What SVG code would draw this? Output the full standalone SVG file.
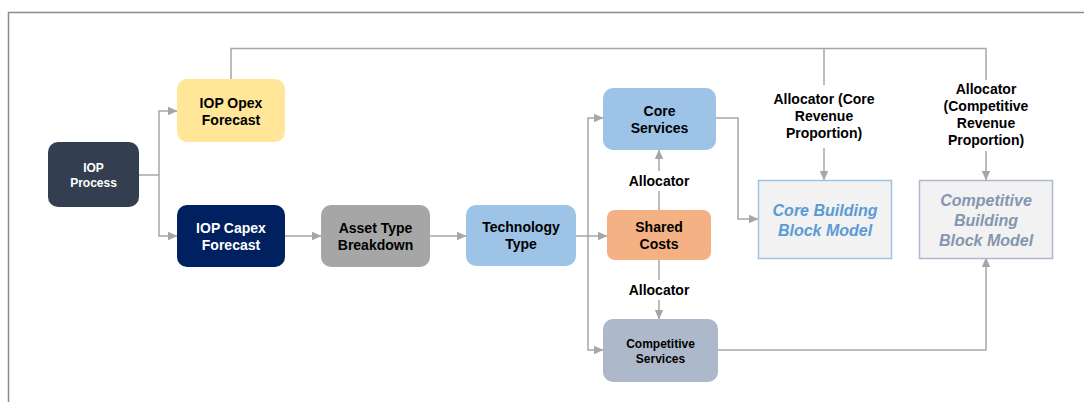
<svg xmlns="http://www.w3.org/2000/svg" width="1084" height="402" viewBox="0 0 1084 402">
  <style>
    .frame { fill: none; stroke: #8c8c8c; stroke-width: 1.5; }
    .conn { fill: none; stroke: #a6a6a6; stroke-width: 1.5; }
    .arr { marker-end: url(#ah); }
    .t { font-family: "Liberation Sans", Arial, sans-serif; font-weight: bold; text-anchor: middle; }
    .t14 { font-size: 14px; }
    .t12 { font-size: 12px; }
    .t16i { font-size: 16px; font-style: italic; }
    .dark { fill: #000000; }
    .light { fill: #ffffff; }
  </style>
  <defs>
    <marker id="ah" markerUnits="userSpaceOnUse" markerWidth="10" markerHeight="10" refX="9" refY="5" orient="auto">
      <path d="M0,0.8 L9.5,5 L0,9.2 Z" fill="#a6a6a6"/>
    </marker>
  </defs>

  <rect width="1084" height="402" fill="#ffffff"/>

  <!-- outer frame (top and left edges) -->
  <path class="frame" d="M8.5,402 V12.5 H1084"/>

  <!-- connectors -->
  <g id="connectors">
    <!-- IOP Process fan-out -->
    <path class="conn" d="M139,175 H159"/>
    <path class="conn arr" d="M159,175 V111 H177"/>
    <path class="conn arr" d="M159,175 V236 H177"/>
    <!-- capex chain -->
    <path class="conn arr" d="M285,236 H321"/>
    <path class="conn arr" d="M430,236 H466"/>
    <path class="conn" d="M576,236 H588"/>
    <path class="conn arr" d="M588,236 H607"/>
    <path class="conn arr" d="M588,236 V118 H603"/>
    <path class="conn arr" d="M588,236 V350 H603"/>
    <!-- shared cost allocation -->
    <path class="conn arr" d="M659,210 V150"/>
    <path class="conn arr" d="M659,260 V319"/>
    <!-- services to building block models -->
    <path class="conn arr" d="M716,118 H738 V219 H758"/>
    <path class="conn arr" d="M718,350 H986 V258"/>
    <!-- opex feed to the revenue allocators -->
    <path class="conn" d="M231,79 V48.5 H986 V80"/>
    <path class="conn" d="M824,48.5 V85"/>
    <path class="conn arr" d="M824,148 V180"/>
    <path class="conn arr" d="M986,151 V180"/>
  </g>

  <!-- allocator labels -->
  <g id="label-alloc-core-services">
    <rect x="622" y="171" width="74" height="20" fill="#ffffff"/>
    <text class="t t14 dark" x="659" y="186">Allocator</text>
  </g>
  <g id="label-alloc-competitive-services">
    <rect x="622" y="280" width="74" height="20" fill="#ffffff"/>
    <text class="t t14 dark" x="659" y="295">Allocator</text>
  </g>
  <g id="label-alloc-core-revenue">
    <text class="t t14 dark" x="824" y="104">Allocator (Core</text>
    <text class="t t14 dark" x="824" y="121">Revenue</text>
    <text class="t t14 dark" x="824" y="138">Proportion)</text>
  </g>
  <g id="label-alloc-competitive-revenue">
    <text class="t t14 dark" x="986" y="94">Allocator</text>
    <text class="t t14 dark" x="986" y="111">(Competitive</text>
    <text class="t t14 dark" x="986" y="128">Revenue</text>
    <text class="t t14 dark" x="986" y="145">Proportion)</text>
  </g>

  <!-- nodes -->
  <g id="iop-process">
    <rect x="48" y="142" width="91" height="65" rx="10" fill="#333f50"/>
    <text class="t t12 light" x="93.5" y="172">IOP</text>
    <text class="t t12 light" x="93.5" y="187">Process</text>
  </g>
  <g id="iop-opex-forecast">
    <rect x="177" y="79" width="108" height="63" rx="10" fill="#ffe699"/>
    <text class="t t14 dark" x="231" y="108">IOP Opex</text>
    <text class="t t14 dark" x="231" y="125">Forecast</text>
  </g>
  <g id="iop-capex-forecast">
    <rect x="177" y="205" width="108" height="62" rx="10" fill="#002060"/>
    <text class="t t14 light" x="231" y="233">IOP Capex</text>
    <text class="t t14 light" x="231" y="250">Forecast</text>
  </g>
  <g id="asset-type-breakdown">
    <rect x="321" y="205" width="109" height="62" rx="10" fill="#a6a6a6"/>
    <text class="t t14 dark" x="375.5" y="233">Asset Type</text>
    <text class="t t14 dark" x="375.5" y="250">Breakdown</text>
  </g>
  <g id="technology-type">
    <rect x="466" y="205" width="110" height="61" rx="10" fill="#9dc3e6"/>
    <text class="t t14 dark" x="521" y="232">Technology</text>
    <text class="t t14 dark" x="521" y="249">Type</text>
  </g>
  <g id="core-services">
    <rect x="603" y="88" width="113" height="62" rx="10" fill="#9dc3e6"/>
    <text class="t t14 dark" x="659.5" y="116">Core</text>
    <text class="t t14 dark" x="659.5" y="133">Services</text>
  </g>
  <g id="shared-costs">
    <rect x="607" y="210" width="104" height="50" rx="8" fill="#f4b183"/>
    <text class="t t14 dark" x="659" y="232">Shared</text>
    <text class="t t14 dark" x="659" y="249">Costs</text>
  </g>
  <g id="competitive-services">
    <rect x="603" y="319" width="115" height="63" rx="10" fill="#adb9ca"/>
    <text class="t t12 dark" x="660.5" y="348">Competitive</text>
    <text class="t t12 dark" x="660.5" y="363">Services</text>
  </g>
  <g id="core-building-block-model">
    <rect x="758.5" y="180.5" width="133" height="78" fill="#f2f2f2" stroke="#9dc3e6" stroke-width="1.5"/>
    <text class="t t16i" x="825" y="216" fill="#5b9bd5">Core Building</text>
    <text class="t t16i" x="825" y="236" fill="#5b9bd5">Block Model</text>
  </g>
  <g id="competitive-building-block-model">
    <rect x="919.5" y="180.5" width="133" height="78" fill="#f2f2f2" stroke="#adb9ca" stroke-width="1.5"/>
    <text class="t t16i" x="986" y="206" fill="#8497b0">Competitive</text>
    <text class="t t16i" x="986" y="226" fill="#8497b0">Building</text>
    <text class="t t16i" x="986" y="246" fill="#8497b0">Block Model</text>
  </g>
</svg>
